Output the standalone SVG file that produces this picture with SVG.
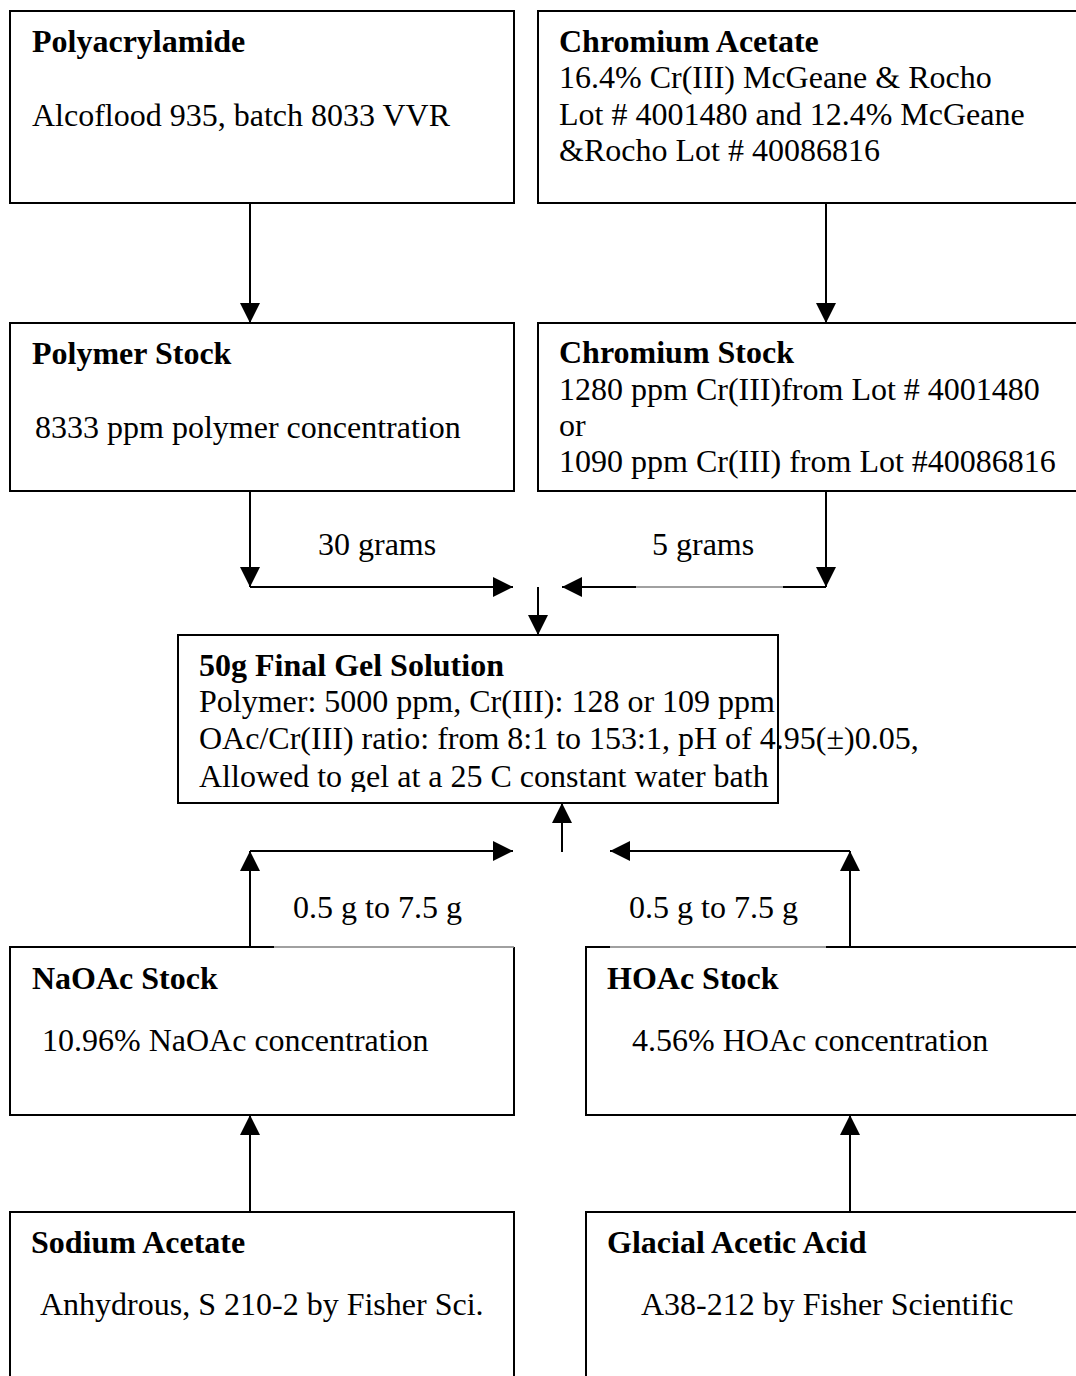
<svg xmlns="http://www.w3.org/2000/svg" width="1076" height="1376" viewBox="0 0 1076 1376">
  <style>
    text { font-family: "Liberation Serif", "Times New Roman", serif; font-size: 32px; fill: #000; }
    .h { font-weight: bold; }
    .box { fill: #fff; stroke: #000; stroke-width: 2; }
    .edge { fill: none; stroke: #000; stroke-width: 2; }
    .faint { fill: none; stroke: #808080; stroke-width: 1.5; }
  </style>
  <defs>
    <marker id="head" markerUnits="userSpaceOnUse" markerWidth="20" markerHeight="20" refX="20" refY="10" orient="auto" viewBox="0 0 20 20">
      <path d="M0,0 L20,10 L0,20 z" fill="#000"/>
    </marker>
    <!-- the last line's descenders are cut at the box's text frame -->
    <clipPath id="gelClip">
      <rect x="178" y="636" width="898" height="156"/>
    </clipPath>
  </defs>

  <rect width="1076" height="1376" fill="#fff"/>

  <!-- connectors -->
  <g id="connectors">
    <path class="edge" d="M250,203 V323" marker-end="url(#head)"/>
    <path class="edge" d="M826,203 V323" marker-end="url(#head)"/>

    <path class="edge" d="M250,491 V587" marker-end="url(#head)"/>
    <path class="edge" d="M250,587 H513" marker-end="url(#head)"/>
    <path class="edge" d="M826,491 V587" marker-end="url(#head)"/>
    <path class="edge" d="M826,587 H783"/>
    <path class="faint" d="M783,587 H636"/>
    <path class="edge" d="M636,587 H562" marker-end="url(#head)"/>
    <path class="edge" d="M538,587 V635" marker-end="url(#head)"/>

    <path class="edge" d="M562,852 V803" marker-end="url(#head)"/>
    <path class="edge" d="M250,947 V851" marker-end="url(#head)"/>
    <path class="edge" d="M250,851 H513" marker-end="url(#head)"/>
    <path class="edge" d="M850,947 V851" marker-end="url(#head)"/>
    <path class="edge" d="M850,851 H610" marker-end="url(#head)"/>

    <path class="edge" d="M250,1212 V1115" marker-end="url(#head)"/>
    <path class="edge" d="M850,1212 V1115" marker-end="url(#head)"/>

    <text x="318" y="555">30 grams</text>
    <text x="652" y="555">5 grams</text>
    <text x="293" y="918">0.5 g to 7.5 g</text>
    <text x="629" y="918">0.5 g to 7.5 g</text>
  </g>

  <g id="polyacrylamide">
    <rect class="box" x="10" y="11" width="504" height="192"/>
    <text class="h" x="32" y="52">Polyacrylamide</text>
    <text x="32" y="126">Alcoflood 935, batch 8033 VVR</text>
  </g>

  <g id="chromium-acetate">
    <rect class="box" x="538" y="11" width="560" height="192"/>
    <text class="h" x="559" y="52">Chromium Acetate</text>
    <text x="559" y="88">16.4% Cr(III) McGeane &amp; Rocho</text>
    <text x="559" y="125">Lot # 4001480 and 12.4% McGeane</text>
    <text x="559" y="161">&amp;Rocho Lot # 40086816</text>
  </g>

  <g id="polymer-stock">
    <rect class="box" x="10" y="323" width="504" height="168"/>
    <text class="h" x="32" y="364">Polymer Stock</text>
    <text x="35" y="438">8333 ppm polymer concentration</text>
  </g>

  <g id="chromium-stock">
    <rect class="box" x="538" y="323" width="560" height="168"/>
    <text class="h" x="559" y="363">Chromium Stock</text>
    <text x="559" y="400">1280 ppm Cr(III)from Lot # 4001480</text>
    <text x="559" y="436">or</text>
    <text x="559" y="472">1090 ppm Cr(III) from Lot #40086816</text>
  </g>

  <g id="final-gel">
    <rect class="box" x="178" y="635" width="600" height="168"/>
    <g clip-path="url(#gelClip)">
      <text class="h" x="199" y="676">50g Final Gel Solution</text>
      <text x="199" y="712">Polymer: 5000 ppm, Cr(III): 128 or 109 ppm</text>
      <text x="199" y="749">OAc/Cr(III) ratio: from 8:1 to 153:1, pH of 4.95(±)0.05,</text>
      <text x="199" y="787">Allowed to gel at a 25 C constant water bath</text>
    </g>
  </g>

  <g id="naoac-stock">
    <path class="edge" d="M274,947 H10 V1115 H514 V947"/>
    <path class="faint" d="M274,947 H514"/>
    <text class="h" x="32" y="989">NaOAc Stock</text>
    <text x="42" y="1051">10.96% NaOAc concentration</text>
  </g>

  <g id="hoac-stock">
    <path class="edge" d="M610,947 H586 V1115 H1098"/>
    <path class="edge" d="M826,947 H1098"/>
    <path class="faint" d="M610,947 H826"/>
    <text class="h" x="607" y="989">HOAc Stock</text>
    <text x="632" y="1051">4.56% HOAc concentration</text>
  </g>

  <g id="sodium-acetate">
    <path class="edge" d="M10,1400 V1212 H514 V1400"/>
    <text class="h" x="31" y="1253">Sodium Acetate</text>
    <text x="40" y="1315">Anhydrous, S 210-2 by Fisher Sci.</text>
  </g>

  <g id="glacial-acetic-acid">
    <path class="edge" d="M586,1400 V1212 H1098"/>
    <text class="h" x="607" y="1253">Glacial Acetic Acid</text>
    <text x="641" y="1315">A38-212 by Fisher Scientific</text>
  </g>
</svg>
